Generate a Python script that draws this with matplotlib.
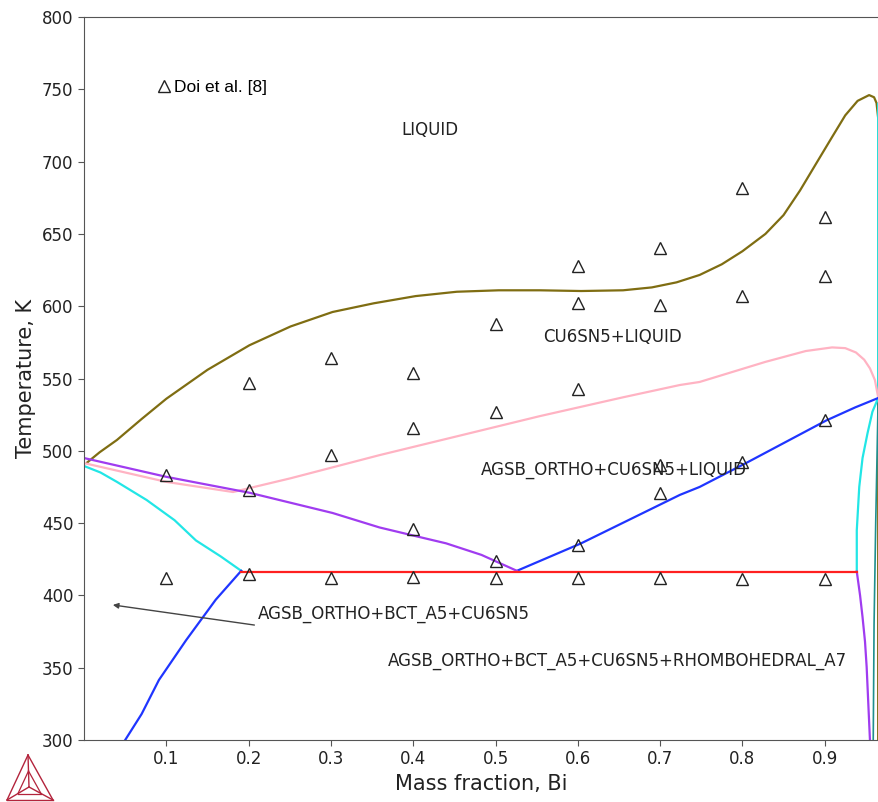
import matplotlib
matplotlib.use('Agg')
from matplotlib import pyplot as plt
from matplotlib.lines import Line2D

# experimental points (Doi et al.), mass fraction Bi / temperature K
doi_x = [0.1, 0.1, 0.2, 0.2, 0.2, 0.3, 0.3, 0.3, 0.4, 0.4, 0.4, 0.4,
         0.5, 0.5, 0.5, 0.5, 0.6, 0.6, 0.6, 0.6, 0.6, 0.7, 0.7, 0.7, 0.7, 0.7,
         0.8, 0.8, 0.8, 0.8, 0.9, 0.9, 0.9, 0.9]
doi_t = [483, 412, 547, 473, 415, 564, 497, 412, 554, 516, 446, 413,
         588, 527, 424, 412, 628, 602, 543, 435, 412, 640, 601, 490, 471, 412,
         682, 607, 492, 411, 662, 621, 521, 411]

# calculated phase boundaries
liq_x = [0.004, 0.019, 0.040, 0.070, 0.100, 0.150, 0.201, 0.251, 0.302, 0.352, 0.403,
         0.453, 0.504, 0.554, 0.604, 0.655, 0.690, 0.720, 0.748, 0.775, 0.800, 0.828,
         0.850, 0.870, 0.890, 0.909, 0.925, 0.940, 0.954, 0.960, 0.963, 0.965, 0.965]
liq_t = [492, 499, 507.5, 522, 536, 556, 573, 586, 596, 602, 607,
         610, 611, 611, 610.5, 611, 613, 616.5, 621.6, 629, 638, 650,
         663, 680, 699, 717, 732, 742, 746, 744.5, 740.5, 730, 300]

blue_lo_x = [0.050, 0.070, 0.091, 0.124, 0.160, 0.191]
blue_lo_t = [300, 318, 341.5, 369, 397, 417]

cyan_lo_x = [0.0, 0.02, 0.04, 0.076, 0.110, 0.136, 0.166, 0.191]
cyan_lo_t = [489.5, 485, 478.5, 466, 452, 438, 427, 417]

red_x = [0.191, 0.939]
red_t = [416.5, 416.5]

purple_x = [0.0, 0.1, 0.201, 0.302, 0.359, 0.403, 0.440, 0.483, 0.526]
purple_t = [495, 482, 471, 457, 447, 441, 436, 428, 417]

purple_r_x = [0.939, 0.943, 0.946, 0.949, 0.951, 0.955]
purple_r_t = [416.5, 400, 385, 368, 350.5, 300]

blue_up_x = [0.526, 0.604, 0.724, 0.748, 0.806, 0.902, 0.937, 0.965]
blue_up_t = [417, 436, 469.5, 475, 492, 521, 530, 536.5]

pink_x = [0.0, 0.1, 0.181, 0.251, 0.359, 0.453, 0.554, 0.655, 0.724, 0.748, 0.828,
          0.877, 0.909, 0.925, 0.938, 0.948, 0.955, 0.961, 0.965]
pink_t = [491.5, 478.5, 471.5, 481, 497, 510, 524, 537, 545.5, 547.6, 561.5,
          569, 571.5, 571, 568, 563, 557, 549, 537]

cyan_r_x = [0.939, 0.939, 0.942, 0.946, 0.952, 0.958, 0.965, 0.965]
cyan_r_t = [416.5, 445, 475, 495, 512, 527, 536.5, 740]

teal_x = [0.965, 0.962, 0.960, 0.959]
teal_t = [536.5, 450, 380, 300]

xticks = [0.1, 0.2, 0.3, 0.4, 0.5, 0.6, 0.7, 0.8, 0.9]
yticks = [300, 350, 400, 450, 500, 550, 600, 650, 700, 750, 800]

fig = plt.figure(figsize=(8.79, 8.02), dpi=100)
ax = fig.add_axes([0.0956, 0.0773, 0.9044, 0.9015])

lw = 1.6
ax.plot(liq_x, liq_t, color='#7f6d12', lw=lw)
ax.plot(teal_x, teal_t, color='#1f8f8f', lw=1.2)
ax.plot(cyan_r_x, cyan_r_t, color='#22e6e6', lw=lw)
ax.plot(pink_x, pink_t, color='#ffb3c3', lw=lw)
ax.plot(cyan_lo_x, cyan_lo_t, color='#22e6e6', lw=lw)
ax.plot(blue_lo_x, blue_lo_t, color='#1f35ff', lw=lw)
ax.plot(blue_up_x, blue_up_t, color='#1f35ff', lw=lw)
ax.plot(purple_x, purple_t, color='#a03cf0', lw=lw)
ax.plot(purple_r_x, purple_r_t, color='#a03cf0', lw=lw)
ax.plot(red_x, red_t, color='#ff2020', lw=lw)

ax.plot(doi_x, doi_t, ls='none', marker='^', ms=9, mfc='none', mec='#222222', mew=1.0)

lbl = dict(fontsize=12, color='#222222', ha='center', va='center')
ax.text(0.420, 722, 'LIQUID', **lbl)
ax.text(0.642, 578.5, 'CU6SN5+LIQUID', **lbl)
ax.text(0.644, 486.5, 'AGSB_ORTHO+CU6SN5+LIQUID', **lbl)
ax.text(0.376, 387, 'AGSB_ORTHO+BCT_A5+CU6SN5', **lbl)
ax.text(0.648, 354.5, 'AGSB_ORTHO+BCT_A5+CU6SN5+RHOMBOHEDRAL_A7', **lbl)
ax.annotate('', xy=(0.035, 393.4), xytext=(0.207, 379.5),
            arrowprops=dict(arrowstyle='-|>', color='#444444', lw=1.0,
                            mutation_scale=8, shrinkA=0, shrinkB=0))

h = Line2D([], [], ls='none', marker='^', ms=9, mfc='none', mec='#222222', mew=1.0)
ax.legend([h], ['Doi et al. [8]'], loc='upper left', bbox_to_anchor=(0.07, 0.935),
          frameon=False, handletextpad=0.1, handlelength=1.0,
          prop={'family': 'Liberation Sans', 'size': 12.5})

ax.set_xlim(0, 0.966)
ax.set_ylim(300, 800)
ax.set_xticks(xticks)
ax.set_xticklabels([str(v) for v in xticks])
ax.set_yticks(yticks)
ax.tick_params(labelsize=12, length=4, color='#555555', labelcolor='#222222')
ax.spines['right'].set_visible(False)
for s in ['left', 'top', 'bottom']:
    ax.spines[s].set_color('#555555')
ax.set_xlabel('Mass fraction, Bi', fontsize=15, color='#222222')
ax.set_ylabel('Temperature, K', fontsize=15, color='#222222')

# Thermo-Calc style logo, bottom left
red = '#b3243c'
top = (28 / 879, 1 - 755 / 802)
bl = (7 / 879, 1 - 800 / 802)
br = (53 / 879, 1 - 800 / 802)
cen = (29 / 879, 1 - 787 / 802)
for p, q in [(top, bl), (bl, br), (br, top), (top, cen), (bl, cen), (br, cen)]:
    fig.add_artist(Line2D([p[0], q[0]], [p[1], q[1]], color=red, lw=1.0,
                          transform=fig.transFigure))
mids = [((v[0] + cen[0]) / 2, (v[1] + cen[1]) / 2) for v in (top, bl, br)]
for i in range(3):
    p, q = mids[i], mids[(i + 1) % 3]
    fig.add_artist(Line2D([p[0], q[0]], [p[1], q[1]], color=red, lw=0.9,
                          transform=fig.transFigure))

fig.savefig('out.png', dpi=100)
